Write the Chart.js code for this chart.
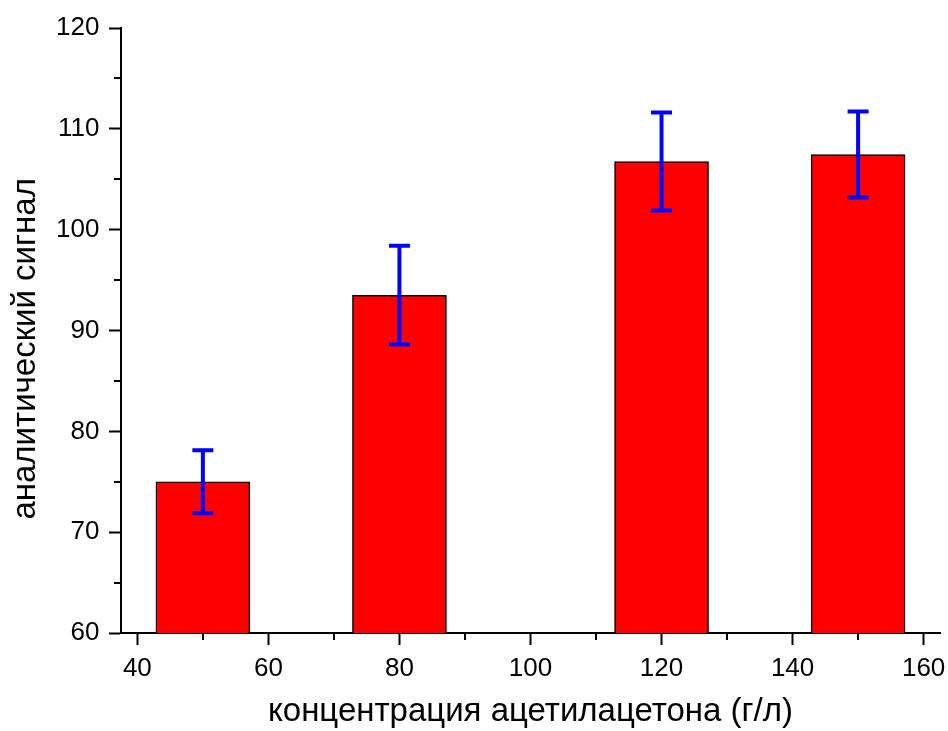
<!DOCTYPE html>
<html>
<head>
<meta charset="utf-8">
<script src="https://cdn.jsdelivr.net/npm/chart.js@4"></script>
<style>
  body{margin:0;background:#fff;}
  #wrap{width:948px;height:731px;}
</style>
</head>
<body>
<div id="wrap"><canvas id="signalBar" width="948" height="731"></canvas></div>
<script>
// концентрация (г/л) -> аналитический сигнал, с погрешностями
const concentrations = [50, 80, 120, 150];
const signal = [75.0, 93.5, 106.75, 107.45];
const signalErr = [3.13, 4.9, 4.86, 4.27];

const xTicks = [40, 60, 80, 100, 120, 140, 160];
const xMinor = [50, 70, 90, 110, 130, 150];
const yTicks = [60, 70, 80, 90, 100, 110, 120];
const yMinor = [65, 75, 85, 95, 105, 115];

Chart.defaults.font.family = '"Liberation Sans", Arial, sans-serif';
Chart.defaults.color = '#000';

// усы погрешностей поверх столбцов
const errorBars = {
  id: 'errorBars',
  afterDatasetsDraw(chart){
    const {ctx, scales:{x, y}} = chart;
    ctx.save();
    ctx.strokeStyle = '#0000ff';
    ctx.lineWidth = 4;
    concentrations.forEach((c,i)=>{
      const px = x.getPixelForValue(c);
      const top = y.getPixelForValue(signal[i] + signalErr[i]);
      const bot = y.getPixelForValue(signal[i] - signalErr[i]);
      ctx.beginPath();
      ctx.moveTo(px, top); ctx.lineTo(px, bot);
      ctx.moveTo(px-10.5, top); ctx.lineTo(px+10.5, top);
      ctx.moveTo(px-10.5, bot); ctx.lineTo(px+10.5, bot);
      ctx.stroke();
    });
    ctx.restore();
  }
};

// короткие промежуточные штрихи на осях
const minorTicks = {
  id: 'minorTicks',
  afterDraw(chart){
    const {ctx, chartArea:a, scales:{x, y}} = chart;
    ctx.save();
    ctx.strokeStyle = '#000';
    ctx.lineWidth = 2;
    ctx.beginPath();
    xMinor.forEach(v=>{ const px = Math.round(x.getPixelForValue(v)); ctx.moveTo(px, a.bottom); ctx.lineTo(px, a.bottom+7); });
    yMinor.forEach(v=>{ const py = Math.round(y.getPixelForValue(v)); ctx.moveTo(a.left-7, py); ctx.lineTo(a.left, py); });
    ctx.stroke();
    ctx.restore();
  }
};

const axisCommon = {
  z: 1,
  border: {display:true, color:'#000', width:2},
  grid: {drawOnChartArea:false, drawTicks:true, tickLength:12, tickWidth:2, tickColor:'#000', offset:false},
};

new Chart(document.getElementById('signalBar').getContext('2d'), {
  type: 'bar',
  data: {
    datasets: [{
      data: concentrations.map((c,i)=>({x:c, y:signal[i]})),
      backgroundColor: '#ff0000',
      borderColor: '#000',
      borderWidth: 1.5,
      barThickness: 94
    }]
  },
  options: {
    responsive: false,
    animation: false,
    devicePixelRatio: 1,
    layout: {padding: {top: 28, right: 8, bottom: 0, left: 7.85}},
    plugins: {legend:{display:false}, tooltip:{enabled:false}},
    scales: {
      x: {
        ...axisCommon,
        type: 'linear',
        offset: false,
        min: 37.5, max: 162.5,
        afterBuildTicks: s => { s.ticks = xTicks.map(v=>({value:v})); },
        // подписи крайних делений не должны сжимать область графика
        afterFit: s => { s.paddingLeft = 0; s.paddingRight = 0; },
        ticks: {font:{size:26}, padding:8, maxRotation:0, autoSkip:false},
        title: {display:true, text:'концентрация ацетилацетона (г/л)', font:{size:33, lineHeight:1.1}, padding:{top:2, bottom:0.5}}
      },
      y: {
        ...axisCommon,
        min: 60, max: 120,
        afterBuildTicks: s => { s.ticks = yTicks.map(v=>({value:v})); },
        ticks: {font:{size:26}, padding:9.5},
        title: {display:true, text:'аналитический сигнал    ', font:{size:33, lineHeight:1.1}, padding:{top:0, bottom:2.45}}
      }
    }
  },
  plugins: [errorBars, minorTicks]
});
</script>
</body>
</html>
